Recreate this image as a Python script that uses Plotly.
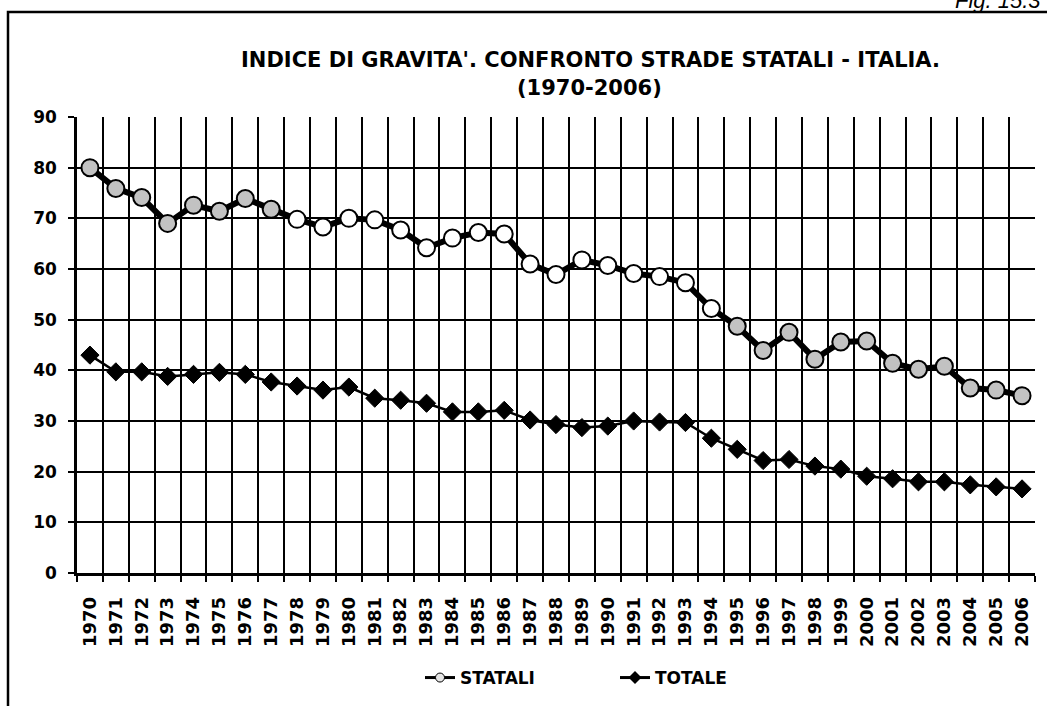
import plotly.graph_objects as go

years = ["1970", "1971", "1972", "1973", "1974", "1975", "1976", "1977", "1978", "1979",
         "1980", "1981", "1982", "1983", "1984", "1985", "1986", "1987", "1988", "1989",
         "1990", "1991", "1992", "1993", "1994", "1995", "1996", "1997", "1998", "1999",
         "2000", "2001", "2002", "2003", "2004", "2005", "2006"]

statali = [80.0, 75.9, 74.1, 69.0, 72.6, 71.4, 73.9, 71.8, 69.8, 68.3,
           70.0, 69.7, 67.7, 64.2, 66.1, 67.2, 66.9, 61.0, 58.9, 61.8,
           60.7, 59.1, 58.5, 57.3, 52.2, 48.7, 43.9, 47.5, 42.2, 45.6,
           45.8, 41.4, 40.2, 40.8, 36.5, 36.1, 35.0]

totale = [43.0, 39.7, 39.7, 38.8, 39.2, 39.6, 39.2, 37.7, 36.9, 36.1,
          36.7, 34.5, 34.1, 33.5, 31.8, 31.8, 32.1, 30.2, 29.3, 28.7,
          29.0, 30.0, 29.8, 29.7, 26.6, 24.4, 22.2, 22.4, 21.1, 20.5,
          19.1, 18.6, 18.0, 18.0, 17.4, 17.0, 16.6]

y_ticks = [0, 10, 20, 30, 40, 50, 60, 70, 80, 90]

title_line1 = "INDICE DI GRAVITA'. CONFRONTO STRADE STATALI - ITALIA."
title_line2 = "(1970-2006)"
fig_label = "Fig. 15.3"

FONT = "DejaVu Sans"

W, H = 1047, 706
PL, PR, PT, PB = 77, 1035, 117, 573          # plot area in page pixels
L, R, T, B = PL, W - PR, PT, H - PB
PW, PH = PR - PL, PB - PT


def px(x):
    return (x - PL) / PW


def py(y):
    return (PB - y) / PH


# marker fills (scan shading: grey at the ends, white in the middle)
fills = ["#c2c2c2" if (i <= 7 or i >= 25) else "white" for i in range(len(years))]

fig = go.Figure()

fig.add_trace(go.Scatter(
    x=years, y=statali, mode="lines+markers", showlegend=False,
    line=dict(color="black", width=6),
    marker=dict(symbol="circle", size=17, color=fills, line=dict(color="black", width=2)),
))

fig.add_trace(go.Scatter(
    x=years, y=totale, mode="lines+markers", showlegend=False,
    line=dict(color="black", width=2.5),
    marker=dict(symbol="diamond", size=14, color="black", line=dict(color="black", width=1)),
))

# legend entries
fig.add_trace(go.Scatter(
    x=[None], y=[None], mode="lines+markers", name="STATALI",
    line=dict(color="black", width=3),
    marker=dict(symbol="circle", size=9, color="#e6e6e6", line=dict(color="black", width=1)),
))
fig.add_trace(go.Scatter(
    x=[None], y=[None], mode="lines+markers", name="TOTALE",
    line=dict(color="black", width=3),
    marker=dict(symbol="diamond", size=10, color="black"),
))

fig.update_layout(
    width=W, height=H,
    margin=dict(l=L, r=R, t=T, b=B, pad=0, autoexpand=False),
    paper_bgcolor="white", plot_bgcolor="white",
    font=dict(family=FONT, color="black", size=16, weight="bold"),
    legend=dict(
        orientation="h", x=px(420), xanchor="left", y=py(678), yanchor="middle",
        font=dict(family=FONT, size=17, color="black", weight="bold"),
        entrywidth=150, entrywidthmode="pixels", tracegroupgap=0,
        bgcolor="rgba(0,0,0,0)",
    ),
    xaxis=dict(
        type="category", categoryorder="array", categoryarray=years,
        tickvals=years, ticktext=years,
        tickson="boundaries", showgrid=True, gridcolor="black", gridwidth=1.6,
        ticks="outside", ticklen=6, tickwidth=1.6, tickcolor="black",
        ticklabelstandoff=14,
        tickangle=-90, tickfont=dict(family=FONT, size=18, weight="bold"),
        showline=True, linecolor="black", linewidth=2.5,
        range=[-0.5, len(years) - 0.5], fixedrange=True, automargin=False,
    ),
    yaxis=dict(
        range=[0, 90], tickvals=y_ticks, ticktext=[str(v) for v in y_ticks],
        showgrid=True, gridcolor="black", gridwidth=1.6,
        ticks="outside", ticklen=6, tickwidth=1.6, tickcolor="black",
        ticklabelstandoff=8,
        tickfont=dict(family=FONT, size=17, weight="bold"),
        showline=True, linecolor="black", linewidth=2.5,
        zeroline=False, fixedrange=True, automargin=False,
    ),
    annotations=[
        dict(text=title_line1, x=px(590), y=py(60), xref="paper", yref="paper",
             xanchor="center", yanchor="middle", showarrow=False,
             font=dict(family=FONT, size=21, weight="bold", color="black")),
        dict(text=title_line2, x=px(589), y=py(88), xref="paper", yref="paper",
             xanchor="center", yanchor="middle", showarrow=False,
             font=dict(family=FONT, size=21, weight="bold", color="black")),
        dict(text=fig_label, x=px(953), y=py(0), xref="paper", yref="paper",
             xanchor="left", yanchor="middle", showarrow=False,
             font=dict(family="Liberation Sans", size=22, style="italic", weight="normal", color="black")),
    ],
    shapes=[
        dict(type="rect", xref="paper", yref="paper",
             x0=px(8), x1=px(1070), y0=py(730), y1=py(12),
             line=dict(color="black", width=2.5), layer="below"),
    ],
)

fig.write_html(
    "out.html",
    config={"displayModeBar": False},
    post_script="document.body.style.margin='0';document.body.style.overflow='hidden';",
)
